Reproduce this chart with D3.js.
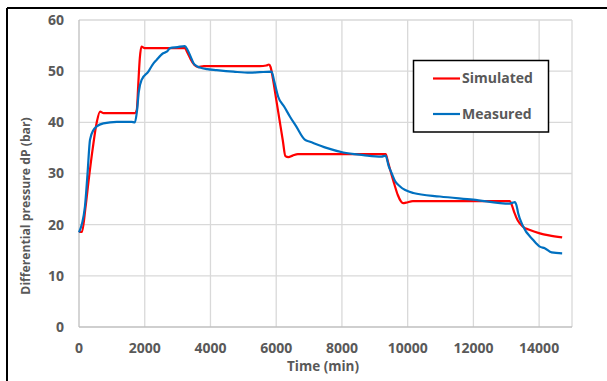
<!DOCTYPE html>
<html>
<head>
<meta charset="utf-8">
<script src="https://cdn.jsdelivr.net/npm/d3@7"></script>
<style>
  body { margin: 0; background: #fff; }
  text { font-family: "Open Sans", sans-serif; font-weight: 700; fill: #595959; }
</style>
</head>
<body>
<div id="chart"></div>
<script>
// simulated dP (red)
var simTime = [0, 90, 200, 300, 420, 540, 640, 750, 1000, 1700, 1760, 1800, 1850, 1900, 2000, 2500, 3000, 3220, 3300, 3400, 3500, 3620, 3800, 4500, 5500, 5700, 5780, 5830, 5900, 6000, 6100, 6200, 6280, 6370, 6500, 6660, 7500, 8500, 9330, 9400, 9500, 9600, 9700, 9800, 9860, 9950, 10160, 11000, 12000, 13110, 13160, 13250, 13350, 13510, 13700, 14020, 14300, 14700];
var simValue = [18.6, 18.6, 23.5, 29, 35, 40, 42.1, 41.8, 41.8, 41.8, 42.5, 47, 52.5, 54.8, 54.5, 54.5, 54.5, 54.5, 53.6, 52.3, 51.3, 50.8, 51, 51, 51, 51.1, 51.3, 50.8, 48.5, 44.5, 40.5, 36.5, 33.4, 33.2, 33.5, 33.8, 33.8, 33.8, 33.8, 32.3, 30, 27.8, 25.8, 24.5, 24.2, 24.3, 24.6, 24.6, 24.6, 24.6, 24, 22.3, 20.8, 19.6, 19, 18.3, 17.9, 17.5];

// measured dP (blue)
var measTime = [0, 180, 260, 335, 440, 540, 740, 1150, 1600, 1700, 1760, 1820, 1905, 2110, 2230, 2360, 2560, 2670, 2770, 3000, 3220, 3300, 3400, 3480, 3580, 3680, 3900, 4190, 4700, 5200, 5500, 5860, 5940, 6060, 6250, 6420, 6600, 6870, 7030, 7530, 8040, 8650, 9200, 9330, 9420, 9510, 9610, 9760, 10170, 10980, 11990, 13110, 13200, 13260, 13310, 13360, 13510, 13820, 14020, 14170, 14380, 14700];
var measValue = [18.5, 23.5, 30, 36.6, 38.5, 39.2, 39.8, 40.1, 40.1, 40.0, 42, 46, 48.3, 49.9, 51.2, 52.2, 53.5, 53.8, 54.5, 54.7, 54.9, 54.2, 52.8, 51.6, 51, 50.7, 50.4, 50.2, 49.9, 49.7, 49.8, 49.9, 48, 45, 43, 41.1, 39.3, 36.6, 36.2, 35, 34.1, 33.6, 33.3, 33.5, 31.5, 30.1, 28.6, 27.5, 26.2, 25.5, 24.9, 24.1, 24.3, 24.4, 23.8, 22.3, 19.7, 17, 15.7, 15.4, 14.6, 14.4];

var xTicks = [0, 2000, 4000, 6000, 8000, 10000, 12000, 14000];
var yTicks = [0, 10, 20, 30, 40, 50, 60];
var seriesNames = ["Simulated", "Measured"];
var seriesColors = ["#ff0000", "#0070c0"];

var W = 607, H = 381;
var margin = {left: 79, top: 20, right: 35, bottom: 54};

var svg = d3.select("#chart").append("svg")
    .attr("width", W)
    .attr("height", H);

// outer frame (only top and left edges show)
svg.append("line").attr("x1", 7).attr("x2", W).attr("y1", 8).attr("y2", 8)
    .attr("stroke", "#000").attr("stroke-width", 2);
svg.append("line").attr("x1", 7).attr("x2", 7).attr("y1", 8).attr("y2", H)
    .attr("stroke", "#000").attr("stroke-width", 2);

var x = d3.scaleLinear().domain([0, 15000]).range([margin.left, W - margin.right]);
var y = d3.scaleLinear().domain([0, 60]).range([H - margin.bottom, margin.top]);

// grid
svg.append("g").selectAll("line")
    .data(xTicks.concat([15000]).slice(1))
    .enter().append("line")
    .attr("x1", d => x(d)).attr("x2", d => x(d))
    .attr("y1", y(0)).attr("y2", y(60))
    .attr("stroke", "#d9d9d9").attr("stroke-width", 1.3);
svg.append("g").selectAll("line")
    .data(yTicks.slice(1))
    .enter().append("line")
    .attr("x1", x(0)).attr("x2", x(15000))
    .attr("y1", d => y(d)).attr("y2", d => y(d))
    .attr("stroke", "#d9d9d9").attr("stroke-width", 1.3);

// axes lines
svg.append("line").attr("x1", x(0)).attr("x2", x(15000)).attr("y1", y(0)).attr("y2", y(0))
    .attr("stroke", "#bfbfbf").attr("stroke-width", 1.3);
svg.append("line").attr("x1", x(0)).attr("x2", x(0)).attr("y1", y(0)).attr("y2", y(60))
    .attr("stroke", "#bfbfbf").attr("stroke-width", 1.3);

// tick labels
svg.append("g").selectAll("text")
    .data(xTicks)
    .enter().append("text")
    .attr("x", d => x(d))
    .attr("y", y(0) + 26)
    .attr("text-anchor", "middle")
    .style("font-size", "14px")
    .text(d => d);
svg.append("g").selectAll("text")
    .data(yTicks)
    .enter().append("text")
    .attr("x", x(0) - 15)
    .attr("y", d => y(d))
    .attr("dy", "0.35em")
    .attr("text-anchor", "end")
    .style("font-size", "14px")
    .text(d => d);

// axis titles
svg.append("text")
    .attr("x", 323).attr("y", 371)
    .attr("text-anchor", "middle")
    .style("font-size", "13.5px")
    .text("Time (min)");
svg.append("text")
    .attr("transform", "translate(30,206) rotate(-90)")
    .attr("text-anchor", "middle")
    .style("font-size", "12.2px")
    .text("Differential pressure dP (bar)");

var line = d3.line()
    .x(d => x(d[0]))
    .y(d => y(d[1]))
    .curve(d3.curveMonotoneX);

var series = [d3.zip(simTime, simValue), d3.zip(measTime, measValue)];

svg.append("g").selectAll("path")
    .data(series)
    .enter().append("path")
    .attr("d", line)
    .attr("fill", "none")
    .attr("stroke", (d, i) => seriesColors[i])
    .attr("stroke-width", 2.2)
    .attr("stroke-linejoin", "round");

// legend
var lg = svg.append("g");
lg.append("rect")
    .attr("x", 413.5).attr("y", 60.5)
    .attr("width", 135).attr("height", 71.5)
    .attr("fill", "#fff").attr("stroke", "#000").attr("stroke-width", 1.5);
var item = lg.selectAll(".item")
    .data(seriesNames)
    .enter().append("g")
    .attr("transform", (d, i) => "translate(0," + (78.5 + i * 35.5) + ")");
item.append("line")
    .attr("x1", 433).attr("x2", 460)
    .attr("stroke", (d, i) => seriesColors[i])
    .attr("stroke-width", 2.2);
item.append("text")
    .attr("x", 462).attr("dy", "0.35em")
    .style("font-size", "14px")
    .text(d => d);
</script>
</body>
</html>
